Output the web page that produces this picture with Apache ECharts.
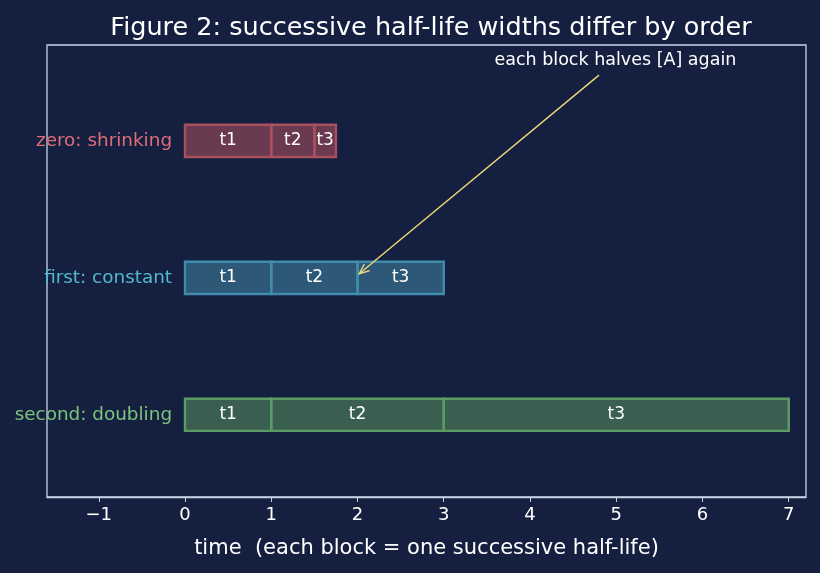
<!DOCTYPE html>
<html>
<head>
<meta charset="utf-8">
<script src="https://cdn.jsdelivr.net/npm/echarts@6/dist/echarts.min.js"></script>
<style>
  html, body { margin: 0; padding: 0; background: #152040; }
  #main { width: 820px; height: 573px; }
</style>
</head>
<body>
<div id="main"></div>
<script>
// rows from bottom (y = 0) to top (y = 2)
var rowNames = ['second: doubling', 'first: constant', 'zero: shrinking'];
var rowWidths = [
    [1, 2, 4],       // second order: each half-life doubles
    [1, 1, 1],       // first order: constant
    [1, 0.5, 0.25]   // zero order: shrinking
];
var blockNames = ['t1', 't2', 't3'];
var xTicks = [-1, 0, 1, 2, 3, 4, 5, 6, 7];

var rowText = ['#7cc47c', '#52b8d0', '#e06c7a'];
var rowFill = ['rgba(95,156,96,0.5)', 'rgba(71,144,176,0.5)', 'rgba(191,84,96,0.5)'];
var rowEdge = ['#5c9c64', '#3f8cac', '#a8505e'];

var annText = 'each block halves [A] again';
var annTextPos = [4.99, 2.59];
var annFrom = [4.80, 2.48];
var annTo = [2.02, 1.03];

// build block data: [start, end, row]
var blocks = [];
var blockLabels = [];
rowWidths.forEach(function (widths, r) {
    var start = 0;
    widths.forEach(function (w, i) {
        blocks.push([start, start + w, r]);
        blockLabels.push(blockNames[i]);
        start += w;
    });
});

var rowData = rowNames.map(function (name, r) { return [-0.15, r]; });

var chart = echarts.init(document.getElementById('main'));
var axisColor = '#c8d2e4';
var font = 'DejaVu Sans';

var option = {
    backgroundColor: '#152040',
    animation: false,
    title: {
        text: 'Figure 2: successive half-life widths differ by order',
        left: 426, top: 10, textAlign: 'center',
        textStyle: { color: '#ffffff', fontSize: 25.5, fontWeight: 'normal', fontFamily: font }
    },
    grid: {
        left: 47, right: 14, top: 45, bottom: 76,
        show: true, borderColor: axisColor, borderWidth: 1.3, backgroundColor: 'transparent'
    },
    xAxis: {
        type: 'value',
        min: -1.6, max: 7.2,
        name: 'time  (each block = one successive half-life)',
        nameLocation: 'middle', nameGap: 41,
        nameTextStyle: { color: '#ffffff', fontSize: 21, fontFamily: font },
        splitLine: { show: false },
        axisLine: { show: true, onZero: false, lineStyle: { color: axisColor, width: 1.3 } },
        axisTick: { show: true, customValues: xTicks, length: 5, lineStyle: { color: axisColor } },
        axisLabel: {
            customValues: xTicks, color: '#ffffff', fontSize: 18, fontFamily: font, margin: 9,
            formatter: function (v) { return v < 0 ? '\u2212' + Math.abs(v) : String(v); }
        }
    },
    yAxis: {
        type: 'value',
        min: -0.6, max: 2.7,
        show: false
    },
    series: [
        {
            type: 'custom',
            data: blocks,
            renderItem: function (params, api) {
                var p0 = api.coord([api.value(0), api.value(2)]);
                var p1 = api.coord([api.value(1), api.value(2)]);
                var h = api.size([0, 0.235])[1];
                var r = api.value(2);
                return {
                    type: 'rect',
                    shape: { x: p0[0], y: p0[1] - h / 2, width: p1[0] - p0[0], height: h },
                    style: { fill: rowFill[r], stroke: rowEdge[r], lineWidth: 2.4 },
                    textContent: {
                        style: {
                            text: blockLabels[params.dataIndex],
                            fill: '#ffffff', fontSize: 17, fontFamily: font
                        }
                    },
                    textConfig: { position: 'inside' }
                };
            }
        },
        {
            type: 'custom',
            data: rowData,
            renderItem: function (params, api) {
                var p = api.coord([api.value(0), api.value(1)]);
                return {
                    type: 'text',
                    x: p[0], y: p[1],
                    style: {
                        text: rowNames[params.dataIndex],
                        fill: rowText[params.dataIndex],
                        fontSize: 18.4, fontFamily: font,
                        align: 'right', verticalAlign: 'middle'
                    }
                };
            }
        },
        {
            type: 'custom',
            data: [[annFrom[0], annFrom[1], annTo[0], annTo[1]]],
            renderItem: function (params, api) {
                var a = api.coord([api.value(0), api.value(1)]);
                var b = api.coord([api.value(2), api.value(3)]);
                var t = api.coord(annTextPos);
                var ang = Math.atan2(a[1] - b[1], a[0] - b[0]);
                var len = 11, spread = 0.4;
                var h1 = [b[0] + len * Math.cos(ang + spread), b[1] + len * Math.sin(ang + spread)];
                var h2 = [b[0] + len * Math.cos(ang - spread), b[1] + len * Math.sin(ang - spread)];
                var st = { stroke: '#ecd77a', lineWidth: 1.4, fill: null };
                return {
                    type: 'group',
                    children: [
                        { type: 'line', shape: { x1: a[0], y1: a[1], x2: b[0], y2: b[1] }, style: st },
                        { type: 'polyline', shape: { points: [h1, b, h2] }, style: st },
                        {
                            type: 'text', x: t[0], y: t[1],
                            style: {
                                text: annText, fill: '#ffffff', fontSize: 17.5, fontFamily: font,
                                align: 'center', verticalAlign: 'middle'
                            }
                        }
                    ]
                };
            }
        }
    ]
};
chart.setOption(option);
</script>
</body>
</html>
